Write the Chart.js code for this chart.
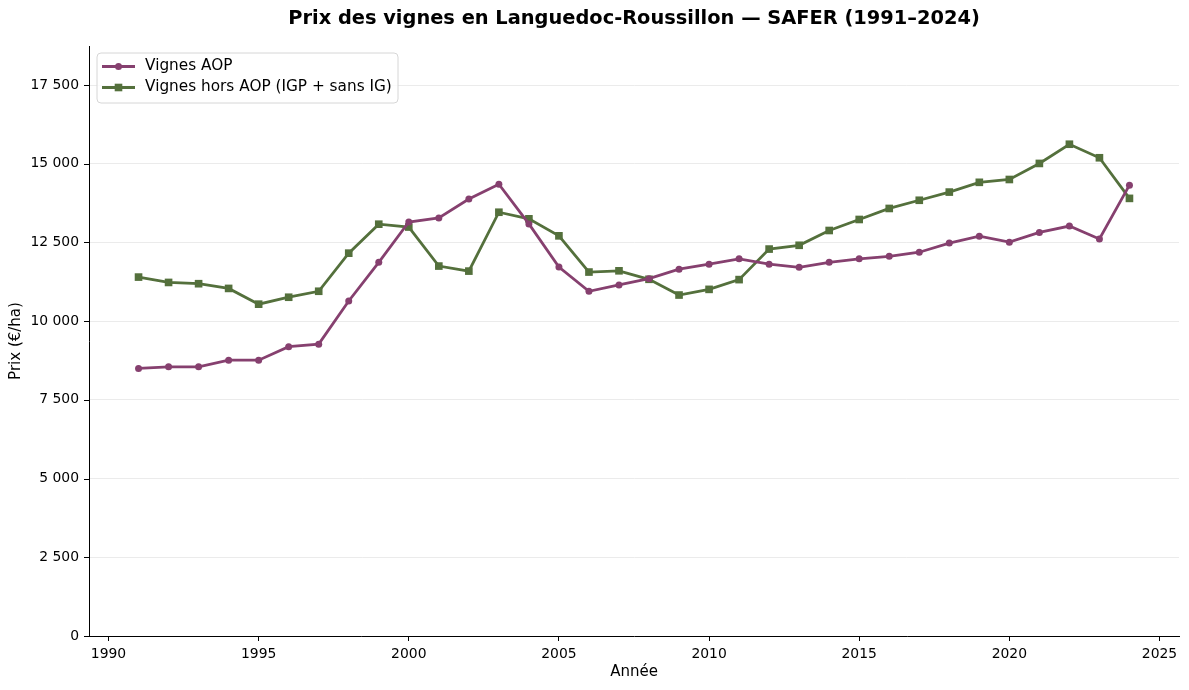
<!DOCTYPE html>
<html lang="fr">
<head>
<meta charset="utf-8">
<title>Prix des vignes en Languedoc-Roussillon</title>
<script src="https://cdn.jsdelivr.net/npm/chart.js@4/dist/chart.umd.min.js"></script>
<style>
    html, body { margin: 0; padding: 0; background: #fff; }
    #wrap { width: 1189px; height: 690px; position: relative; }
</style>
</head>
<body>
<div id="wrap"><canvas id="vignesChart"></canvas></div>
<script>
// Data (€/ha)
const years = [1991, 1992, 1993, 1994, 1995, 1996, 1997, 1998, 1999, 2000,
    2001, 2002, 2003, 2004, 2005, 2006, 2007, 2008, 2009, 2010,
    2011, 2012, 2013, 2014, 2015, 2016, 2017, 2018, 2019, 2020,
    2021, 2022, 2023, 2024];
const prixAOP = [8500, 8550, 8550, 8760, 8760, 9190, 9270, 10640, 11870, 13150,
    13280, 13880, 14350, 13090, 11720, 10950, 11150, 11350, 11650, 11810,
    11980, 11810, 11710, 11870, 11980, 12060, 12190, 12480, 12700, 12510,
    12820, 13020, 12610, 14320];
const prixHorsAOP = [11400, 11230, 11190, 11040, 10540, 10760, 10950, 12160, 13080, 12990,
    11750, 11590, 13460, 13250, 12710, 11560, 11600, 11330, 10830, 11010,
    11320, 12290, 12410, 12880, 13230, 13580, 13840, 14100, 14410, 14500,
    15010, 15620, 15190, 13900];
const xTicks = [1990, 1995, 2000, 2005, 2010, 2015, 2020, 2025];
const yTicks = [0, 2500, 5000, 7500, 10000, 12500, 15000, 17500];

const seriesLabels = ['Vignes AOP', 'Vignes hors AOP (IGP + sans IG)'];
const colorAOP = '#86406f';
const colorHors = '#54703c';
const FONT = '"DejaVu Sans", sans-serif';

function formatFr(v) {
    return String(v).replace(/\B(?=(\d{3})+(?!\d))/g, ' ');
}

/**
 * Title, axis titles, y tick marks and the in-plot legend
 */
const decorPlugin = {
    id: 'decor',
    afterDraw(chart) {
        const ctx = chart.ctx;
        const area = chart.chartArea;
        const yScale = chart.scales.y;
        const cx = (area.left + area.right) / 2;
        const cy = (area.top + area.bottom) / 2;

        ctx.save();
        // y tick marks in black
        ctx.strokeStyle = '#000';
        ctx.lineWidth = 1;
        yTicks.forEach(v => {
            const py = Math.round(yScale.getPixelForValue(v)) + 0.5;
            ctx.beginPath();
            ctx.moveTo(area.left - 5, py);
            ctx.lineTo(area.left, py);
            ctx.stroke();
        });

        // Title
        ctx.fillStyle = '#000';
        ctx.textAlign = 'center';
        ctx.textBaseline = 'middle';
        ctx.font = 'bold 19.4px ' + FONT;
        ctx.fillText('Prix des vignes en Languedoc-Roussillon — SAFER (1991–2024)', cx, 19);

        // Axis titles
        ctx.font = '15px ' + FONT;
        ctx.fillText('Année', cx, 672);
        ctx.translate(16, cy);
        ctx.rotate(-Math.PI / 2);
        ctx.fillText('Prix (€/ha)', 0, 0);
        ctx.restore();

        // Legend box
        ctx.save();
        const bx = 97, by = 53, bw = 301, bh = 50, r = 4;
        ctx.beginPath();
        ctx.moveTo(bx + r, by);
        ctx.arcTo(bx + bw, by, bx + bw, by + bh, r);
        ctx.arcTo(bx + bw, by + bh, bx, by + bh, r);
        ctx.arcTo(bx, by + bh, bx, by, r);
        ctx.arcTo(bx, by, bx + bw, by, r);
        ctx.closePath();
        ctx.fillStyle = 'rgba(255,255,255,0.8)';
        ctx.fill();
        ctx.strokeStyle = '#d6d6d6';
        ctx.lineWidth = 1;
        ctx.stroke();

        const rows = [
            { label: seriesLabels[0], color: colorAOP, square: false, y: 66.5 },
            { label: seriesLabels[1], color: colorHors, square: true, y: 87.5 }
        ];
        rows.forEach(row => {
            ctx.strokeStyle = row.color;
            ctx.fillStyle = row.color;
            ctx.lineWidth = 2.8;
            ctx.beginPath();
            ctx.moveTo(102, row.y);
            ctx.lineTo(135, row.y);
            ctx.stroke();
            if (row.square) {
                ctx.fillRect(118.5 - 3.8, row.y - 3.8, 7.6, 7.6);
            } else {
                ctx.beginPath();
                ctx.arc(118.5, row.y, 3.5, 0, Math.PI * 2);
                ctx.fill();
            }
            ctx.fillStyle = '#000';
            ctx.font = '15.3px ' + FONT;
            ctx.textAlign = 'left';
            ctx.textBaseline = 'middle';
            ctx.fillText(row.label, 145, row.y);
        });
        ctx.restore();
    }
};

document.addEventListener('DOMContentLoaded', function () {
    const canvas = document.getElementById('vignesChart');

    const dataAOP = years.map((yr, i) => ({ x: yr, y: prixAOP[i] }));
    const dataHors = years.map((yr, i) => ({ x: yr, y: prixHorsAOP[i] }));

    new Chart(canvas, {
        type: 'line',
        data: {
            datasets: [
                {
                    label: seriesLabels[0],
                    data: dataAOP,
                    borderColor: colorAOP,
                    backgroundColor: colorAOP,
                    borderWidth: 2.8,
                    pointStyle: 'circle',
                    pointRadius: 3.5,
                    pointBorderWidth: 0,
                    tension: 0
                },
                {
                    label: seriesLabels[1],
                    data: dataHors,
                    borderColor: colorHors,
                    backgroundColor: colorHors,
                    borderWidth: 2.8,
                    pointStyle: 'rect',
                    pointRadius: 5.4,
                    pointBorderWidth: 0,
                    tension: 0
                }
            ]
        },
        options: {
            responsive: true,
            maintainAspectRatio: false,
            animation: false,
            events: [],
            layout: {
                padding: { top: 46, right: 10, left: 0, bottom: 0 }
            },
            scales: {
                x: {
                    type: 'linear',
                    min: 1989.35,
                    max: 2025.65,
                    afterBuildTicks: scale => {
                        scale.ticks = xTicks.map(v => ({ value: v }));
                    },
                    afterFit: scale => { scale.height = 54; },
                    grid: {
                        drawOnChartArea: false,
                        drawTicks: true,
                        tickLength: 5,
                        color: '#000'
                    },
                    border: { display: true, color: '#000', width: 1 },
                    ticks: {
                        color: '#000',
                        padding: 5,
                        maxRotation: 0,
                        font: { family: FONT, size: 13.9 },
                        callback: v => String(v)
                    }
                },
                y: {
                    type: 'linear',
                    min: 0,
                    max: 18740,
                    afterBuildTicks: scale => {
                        scale.ticks = yTicks.map(v => ({ value: v }));
                    },
                    afterFit: scale => { scale.width = 89; },
                    grid: {
                        drawOnChartArea: true,
                        drawTicks: false,
                        color: '#e6e6e6',
                        lineWidth: 0.8
                    },
                    border: { display: true, color: '#000', width: 1 },
                    ticks: {
                        color: '#000',
                        padding: 10,
                        font: { family: FONT, size: 13.9 },
                        callback: v => formatFr(v)
                    }
                }
            },
            plugins: {
                legend: { display: false },
                title: { display: false },
                tooltip: { enabled: false }
            }
        },
        plugins: [decorPlugin]
    });
});
</script>
</body>
</html>
